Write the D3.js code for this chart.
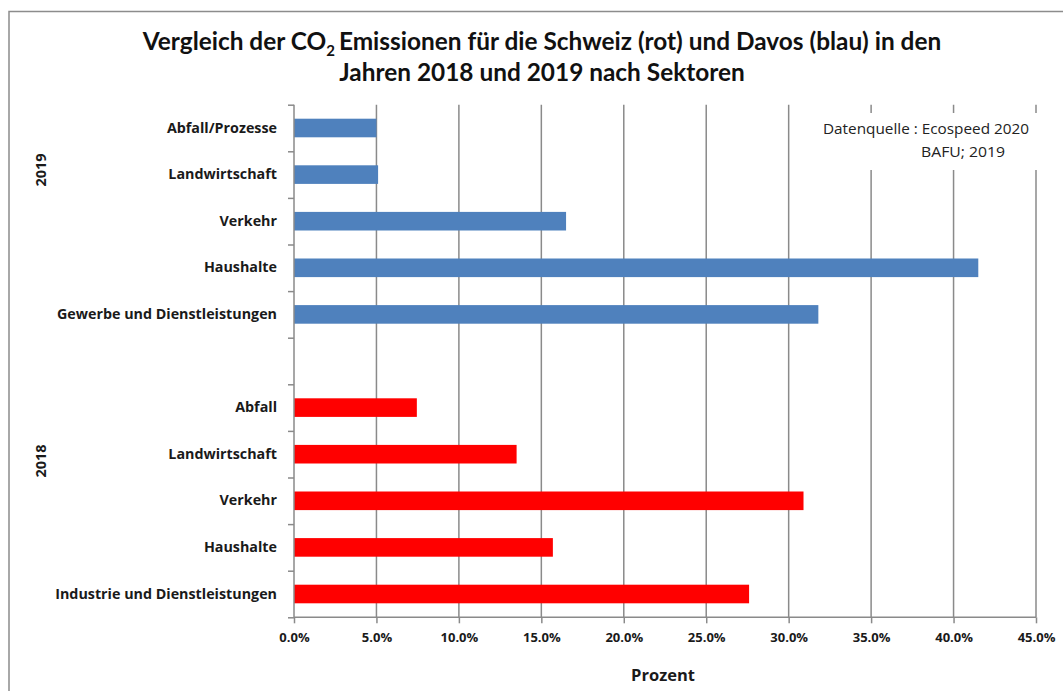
<!DOCTYPE html>
<html>
<head>
<meta charset="utf-8">
<script src="https://cdn.jsdelivr.net/npm/d3@7"></script>
<style>
  html, body { margin: 0; padding: 0; background: #fff; }
  svg { display: block; }
</style>
</head>
<body>
<svg id="chart" width="1063" height="691"></svg>
<script>
// ---- data (percent) ----
const categories2019 = ["Abfall/Prozesse", "Landwirtschaft", "Verkehr", "Haushalte", "Gewerbe und Dienstleistungen"];
const davos2019 = [5.0, 5.1, 16.5, 41.5, 31.8];
const categories2018 = ["Abfall", "Landwirtschaft", "Verkehr", "Haushalte", "Industrie und Dienstleistungen"];
const schweiz2018 = [7.45, 13.5, 30.9, 15.7, 27.6];
const groupLabels = ["2019", "2018"];
const xTickValues = [0, 5, 10, 15, 20, 25, 30, 35, 40, 45];
const titleLine1 = "Vergleich der CO";
const titleLine1b = "Emissionen für die Schweiz (rot) und Davos (blau) in den";
const titleLine2 = "Jahren 2018 und 2019 nach Sektoren";
const sourceLines = ["Datenquelle : Ecospeed 2020", "BAFU; 2019"];
const xAxisTitle = "Prozent";

// ---- build rows (top to bottom) ----
const rows = [];
categories2019.forEach((c, i) => rows.push({key: "b" + i, label: c, value: davos2019[i], color: "#4F81BD"}));
rows.push({key: "gap", label: "", value: null, color: null});
categories2018.forEach((c, i) => rows.push({key: "r" + i, label: c, value: schweiz2018[i], color: "#FF0000"}));

const svg = d3.select("#chart");
const plot = {left: 294, right: 1036, top: 104.7, bottom: 617.3};
const TXT = "#1a1a1a";
const LBL_FONT = "'Open Sans', sans-serif";

// outer frame
svg.append("rect").attr("x", 9).attr("y", 11.5).attr("width", 1070).attr("height", 700)
  .attr("fill", "none").attr("stroke", "#8c8c8c").attr("stroke-width", 1.5);

const x = d3.scaleLinear().domain([0, 45]).range([plot.left, plot.right]);
const y = d3.scaleBand().domain(rows.map(r => r.key)).range([plot.top, plot.bottom]).padding(0);
const yIdx = d3.scaleLinear().domain([0, rows.length]).range([plot.top, plot.bottom]);

// vertical gridlines
svg.append("g").selectAll("line").data(xTickValues.filter(v => v > 0)).join("line")
  .attr("x1", d => x(d)).attr("x2", d => x(d))
  .attr("y1", plot.top).attr("y2", plot.bottom)
  .attr("stroke", "#8a8a8a").attr("stroke-width", 1.5);

// source box (white, interrupts gridlines)
svg.append("rect").attr("x", 808).attr("y", 113).attr("width", 240).attr("height", 57).attr("fill", "#fff");
const src = svg.append("text").style("font-family", LBL_FONT).style("font-size", "14px").style("fill", "#222");
src.append("tspan").attr("x", 823).attr("y", 134).attr("textLength", 206).attr("lengthAdjust", "spacingAndGlyphs").text(sourceLines[0]);
src.append("tspan").attr("x", 921).attr("y", 157).attr("textLength", 84).attr("lengthAdjust", "spacingAndGlyphs").text(sourceLines[1]);

// bars
const barH = 18.6;
svg.append("g").selectAll("rect").data(rows.filter(r => r.value !== null)).join("rect")
  .attr("x", x(0))
  .attr("y", d => y(d.key) + y.bandwidth() / 2 - barH / 2)
  .attr("width", d => x(d.value) - x(0))
  .attr("height", barH)
  .attr("fill", d => d.color);

// x axis
const xAxis = d3.axisBottom(x).tickValues(xTickValues).tickSize(6).tickPadding(9)
  .tickFormat(d => d3.format(".1f")(d) + "%");
const gx = svg.append("g").attr("transform", `translate(0,${plot.bottom})`).call(xAxis);
gx.select(".domain").attr("stroke", "#8a8a8a").attr("stroke-width", 1.5).attr("d", `M${plot.left},0H${plot.right}`);
gx.selectAll(".tick line").attr("stroke", "#8a8a8a").attr("stroke-width", 1.5);
gx.selectAll(".tick text").style("font-family", LBL_FONT).style("font-size", "13px").style("font-weight", "bold").style("fill", TXT);

// y axis line & boundary ticks
const yAxis = d3.axisLeft(yIdx).tickValues(d3.range(0, rows.length + 1)).tickSize(6).tickFormat("");
const gy = svg.append("g").attr("transform", `translate(${plot.left},0)`).call(yAxis);
gy.select(".domain").attr("stroke", "#8a8a8a").attr("stroke-width", 1.5).attr("d", `M0,${plot.top}V${plot.bottom}`);
gy.selectAll(".tick line").attr("stroke", "#8a8a8a").attr("stroke-width", 1.5);

// category labels
const yLab = d3.axisLeft(y).tickSize(0).tickPadding(17).tickFormat(k => rows.find(r => r.key === k).label);
const gl = svg.append("g").attr("transform", `translate(${plot.left},0)`).call(yLab);
gl.select(".domain").remove();
gl.selectAll(".tick text").style("font-family", LBL_FONT).style("font-size", "14.3px").style("font-weight", "bold").style("fill", TXT);

// group labels (rotated)
const groupY = [170, 461];
groupLabels.forEach((g, i) => {
  svg.append("text").attr("transform", `translate(46,${groupY[i]}) rotate(-90)`)
    .attr("text-anchor", "middle").style("font-family", LBL_FONT).style("font-size", "14.5px")
    .style("font-weight", "bold").style("fill", TXT).text(g);
});

// x axis title
svg.append("text").attr("x", 663).attr("y", 681).attr("text-anchor", "middle")
  .style("font-family", LBL_FONT).style("font-size", "16.5px").style("font-weight", "bold").style("fill", TXT).text(xAxisTitle);

// title
const TITLE_FONT = "Lato, sans-serif";
const t1 = svg.append("text").attr("x", 542).attr("y", 50).attr("text-anchor", "middle")
  .style("font-family", TITLE_FONT).style("font-size", "24.4px").style("font-weight", "bold").style("fill", "#111");
t1.append("tspan").text(titleLine1);
t1.append("tspan").style("font-size", "15px").attr("dy", 6).text("2");
t1.append("tspan").attr("dy", -6).attr("dx", 4).text(titleLine1b);
svg.append("text").attr("x", 542).attr("y", 81).attr("text-anchor", "middle")
  .style("font-family", TITLE_FONT).style("font-size", "24.4px").style("font-weight", "bold").style("fill", "#111").text(titleLine2);
</script>
</body>
</html>
